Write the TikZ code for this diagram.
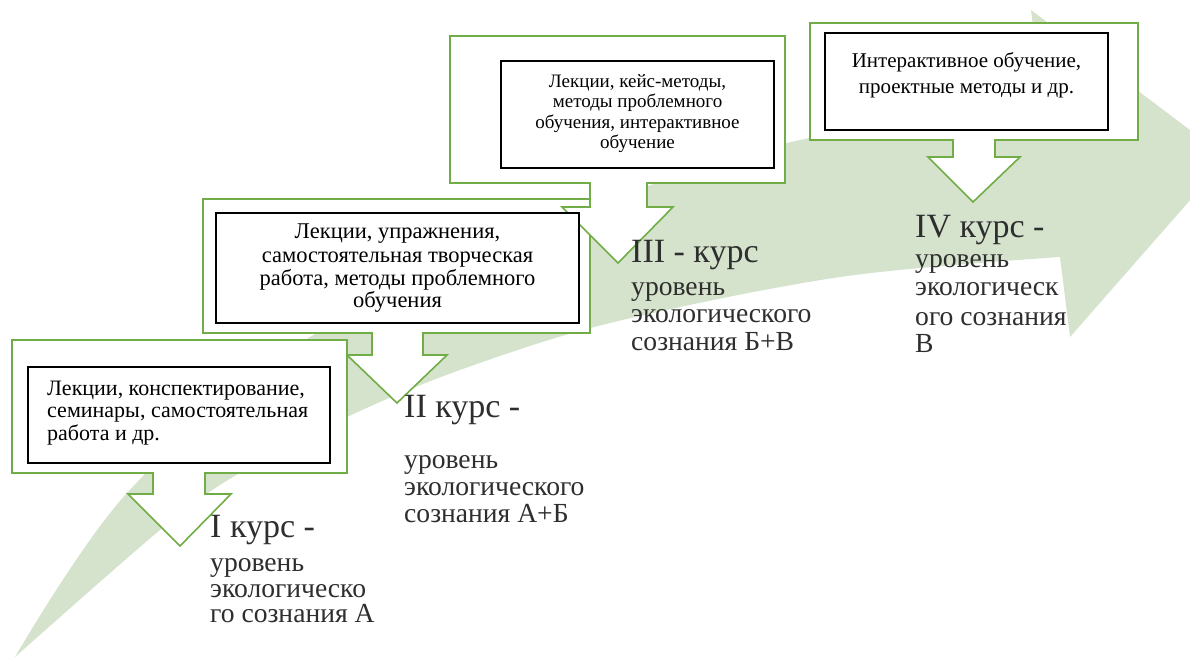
\documentclass[tikz,border=0pt]{standalone}
\usepackage{fontspec}
\setmainfont{Liberation Serif}
\definecolor{arrowgreen}{HTML}{D5E3CD}
\definecolor{callgreen}{HTML}{70AD47}
\definecolor{labelgray}{HTML}{2E2E2E}
\tikzset{
  callout/.style={draw=callgreen, fill=white, line width=1.6pt, line join=miter},
  ibox/.style={draw=black, fill=white, line width=1.5pt, rectangle, inner sep=0pt},
  btext/.style={inner sep=0pt, anchor=base, font=\fontsize{22}{22}\selectfont},
  bigl/.style={inner sep=0pt, anchor=base west, text=labelgray, font=\fontsize{34}{34}\selectfont},
  smalll/.style={inner sep=0pt, anchor=base west, text=labelgray, font=\fontsize{27.6}{27.6}\selectfont}
}
\begin{document}
\begin{tikzpicture}[x=1pt,y=-1pt]
\path[use as bounding box] (0,0) rectangle (1190,659);
\clip (0,0) rectangle (1190,659);
\fill[white] (0,0) rectangle (1190,659);
% big curved arrow
\fill[arrowgreen] (15,657) -- plot[smooth,tension=0.55] coordinates {(15,657) (160,530) (233,477) (347,417) (460,370) (610,323) (840,277) (1060,257)}
  -- (1070,337) -- (1227,158) -- (1031,10)
  -- plot[smooth,tension=0.55] coordinates {(1042,98) (787,143) (600,205) (310,337) (127,493) (15,657)} -- cycle;
% callouts
\draw[callout] (203,199) -- (590,199) -- (590,333) -- (423,333) -- (423,355) -- (447,355) -- (397,403) -- (347,355) -- (372,355) -- (372,333) -- (203,333) -- cycle;
\draw[callout] (450,36) -- (785,36) -- (785,183) -- (647,183) -- (647,207) -- (673,207) -- (618,263) -- (562,207) -- (590,207) -- (590,183) -- (450,183) -- cycle;
\draw[callout] (12,340) -- (347,340) -- (347,473) -- (205,473) -- (205,494) -- (231,494) -- (180,546) -- (128,494) -- (153,494) -- (153,473) -- (12,473) -- cycle;
\draw[callout] (810,23) -- (1138,23) -- (1138,140) -- (995,140) -- (995,157) -- (1020,157) -- (973,202) -- (928,157) -- (953,157) -- (953,140) -- (810,140) -- cycle;
% inner boxes
\node[ibox, minimum width=302pt, minimum height=96pt] (b1) at (179,415) {};
\node[ibox, minimum width=363pt, minimum height=110pt] (b2) at (397.5,268) {};
\node[ibox, minimum width=273pt, minimum height=107pt] (b3) at (637.5,114.5) {};
\node[ibox, line width=2.5pt, minimum width=283pt, minimum height=97pt] (b4) at (966.5,81.5) {};
% box texts
\node[btext, anchor=base west] (t1a) at (47,395) {Лекции, конспектирование,};
\node[btext, anchor=base west] (t1b) at (47,417) {семинары, самостоятельная};
\node[btext, anchor=base west] (t1c) at (47,440) {работа и др.};
\node[btext, font=\fontsize{22.5}{22.5}\selectfont] (t2a) at (397.5,238) {Лекции, упражнения,};
\node[btext, font=\fontsize{22.5}{22.5}\selectfont] (t2b) at (397.5,262) {самостоятельная творческая};
\node[btext, font=\fontsize{22.5}{22.5}\selectfont] (t2c) at (397.5,285) {работа, методы проблемного};
\node[btext, font=\fontsize{22.5}{22.5}\selectfont] (t2d) at (397.5,307) {обучения};
\node[btext, font=\fontsize{19}{19}\selectfont] (t3a) at (637.5,87) {Лекции, кейс-методы,};
\node[btext, font=\fontsize{19}{19}\selectfont] (t3b) at (637.5,107) {методы проблемного};
\node[btext, font=\fontsize{19}{19}\selectfont] (t3c) at (637.5,128) {обучения, интерактивное};
\node[btext, font=\fontsize{19}{19}\selectfont] (t3d) at (637.5,148) {обучение};
\node[btext, font=\fontsize{21}{21}\selectfont] (t4a) at (966.5,67) {Интерактивное обучение,};
\node[btext, font=\fontsize{21}{21}\selectfont] (t4b) at (966.5,93) {проектные методы и др.};
% level labels
\node[bigl] (l1) at (210,537) {I курс -};
\node[smalll] (l1a) at (210,571) {уровень};
\node[smalll] (l1b) at (210,597) {экологическо};
\node[smalll] (l1c) at (210,622) {го сознания А};
\node[bigl] (l2) at (404,417) {II курс -};
\node[smalll] (l2a) at (404,468) {уровень};
\node[smalll] (l2b) at (404,495) {экологического};
\node[smalll] (l2c) at (404,522) {сознания А+Б};
\node[bigl] (l3) at (631,262) {III - курс};
\node[smalll] (l3a) at (631,295) {уровень};
\node[smalll] (l3b) at (631,322) {экологического};
\node[smalll] (l3c) at (631,350) {сознания Б+В};
\node[bigl] (l4) at (915,237) {IV курс -};
\node[smalll] (l4a) at (915,267) {уровень};
\node[smalll] (l4b) at (915,295) {экологическ};
\node[smalll] (l4c) at (915,325) {ого сознания};
\node[smalll] (l4d) at (915,352) {В};
\end{tikzpicture}
\end{document}
